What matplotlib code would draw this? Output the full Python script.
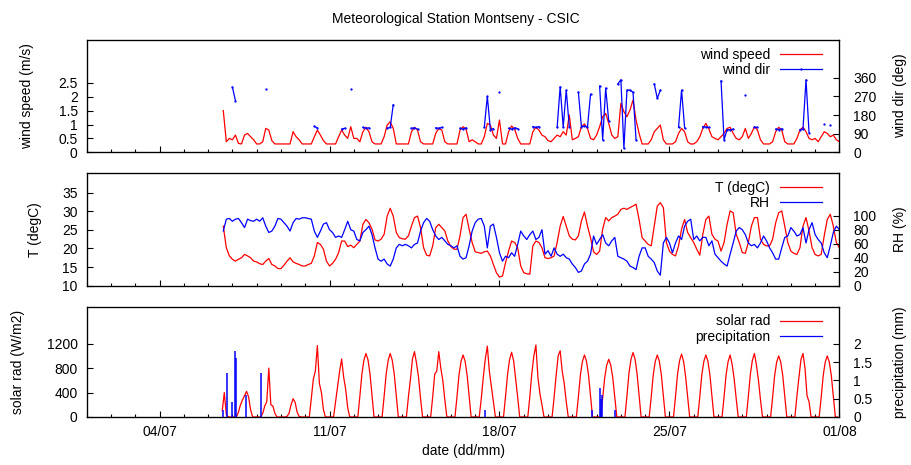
import numpy as np
import pandas as pd
import matplotlib
matplotlib.use('Agg')
import matplotlib.pyplot as plt
import matplotlib.dates as mdates
from matplotlib.ticker import FormatStrFormatter

plt.rcParams['font.family'] = ['Liberation Sans', 'DejaVu Sans']
plt.rcParams['font.size'] = 10

N = np.nan

# ---------------- data (3-hourly, starting 06/07 15:00) ----------------
series_start = '2013-07-06 15:00'
series_step = '3h'

wind_speed = [
    1.5, 0.38, 0.5, 0.45, 0.62, 0.32, 0.3, 0.62, 0.68, 0.56,
    0.45, 0.3, 0.3, 0.38, 0.86, 0.8, 0.42, 0.3, 0.3, 0.3,
    0.3, 0.3, 0.3, 0.74, 0.56, 0.45, 0.3, 0.3, 0.3, 0.3,
    0.56, 0.8, 0.62, 0.42, 0.3, 0.3, 0.3, 0.3, 0.56, 0.8,
    0.62, 0.5, 0.92, 0.5, 0.5, 0.38, 0.74, 0.9, 0.74, 0.38,
    0.3, 0.3, 0.3, 0.56, 0.98, 1.1, 0.86, 0.3, 0.3, 0.3,
    0.3, 0.3, 0.74, 0.9, 0.8, 0.38, 0.3, 0.3, 0.3, 0.3,
    0.68, 0.86, 0.8, 0.38, 0.3, 0.3, 0.3, 0.3, 0.8, 0.92,
    0.83, 0.38, 0.45, 0.38, 0.3, 0.3, 0.56, 1.04, 0.98, 0.62,
    0.5, 1.16, 0.3, 0.3, 0.74, 0.95, 0.83, 0.5, 0.3, 0.3,
    0.3, 0.3, 0.74, 0.9, 0.8, 0.62, 0.56, 0.42, 0.38, 0.5,
    0.62, 0.56, 0.74, 0.62, 1.34, 0.45, 0.5, 0.56, 0.92, 1.02,
    0.86, 0.5, 0.45, 0.62, 0.92, 1.28, 1.4, 1.04, 0.62, 0.5,
    0.56, 1.76, 1.46, 1.28, 1.52, 1.88, 1.16, 0.68, 0.3, 0.3,
    0.3, 0.45, 0.74, 0.86, 0.98, 0.45, 0.3, 0.3, 0.3, 0.38,
    0.68, 0.86, 0.74, 0.38, 0.3, 0.3, 0.38, 0.56, 0.86, 1.04,
    0.83, 0.56, 0.5, 0.45, 0.56, 0.68, 0.86, 0.9, 0.68, 0.5,
    0.45, 0.56, 0.86, 0.5, 0.68, 0.92, 0.8, 0.45, 0.3, 0.3,
    0.3, 0.38, 0.74, 0.9, 0.8, 0.38, 0.3, 0.3, 0.3, 0.5,
    0.8, 0.9, 0.74, 0.5, 0.45, 0.5, 0.38, 0.56, 0.74, 0.68,
    0.56, 0.62, 0.45, 0.38,
]

wind_dir = [
    N, N, N, 315, 250, N, N, N, N, N,
    N, N, N, N, 305, N, N, N, N, N,
    N, N, N, N, N, N, N, N, N, N,
    125, 118, N, N, N, N, N, N, N, 112,
    116, N, 305, N, N, N, 120, 116, 118, N,
    N, N, N, N, 116, 120, 230, N, N, N,
    N, N, 116, 118, 112, N, N, N, N, N,
    118, 116, 120, N, N, N, N, N, 116, 112,
    118, N, N, N, N, N, 120, 270, 110, 114,
    N, 293, N, N, 116, 112, 118, 114, N, N,
    N, N, 124, 120, 124, N, N, N, N, N,
    120, 317, 122, 300, 124, N, N, 290, 124, 126,
    122, 280, N, N, 320, 60, 310, 150, N, N,
    330, 350, 20, 300, 300, 290, 60, N, N, N,
    N, N, 330, 260, 300, N, N, N, N, N,
    120, 300, 118, N, N, N, N, N, 124, 122,
    120, N, N, N, 345, 60, 110, 108, 112, N,
    N, N, 275, N, N, 122, 120, N, N, N,
    N, N, 112, 110, 114, N, N, N, N, N,
    110, 112, 350, 95, N, N, N, N, 135, N,
    130, N, N, N,
]

temperature = [
    26.0, 20.2, 18.0, 17.1, 16.6, 17.1, 17.5, 18.4, 18.0, 17.5,
    16.6, 16.4, 15.9, 15.7, 16.6, 17.3, 15.7, 15.3, 14.6, 14.6,
    15.5, 16.6, 17.5, 16.4, 16.0, 15.7, 15.3, 15.3, 15.7, 16.0,
    18.0, 21.6, 21.1, 19.8, 16.6, 15.3, 16.0, 17.1, 18.9, 22.0,
    22.0, 20.5, 20.9, 20.2, 21.1, 22.0, 26.5, 27.8, 26.9, 25.2,
    22.3, 22.0, 22.5, 23.8, 28.7, 30.8, 28.7, 24.3, 22.9, 22.6,
    22.5, 23.4, 26.0, 28.3, 28.7, 25.6, 20.2, 18.2, 18.0, 20.7,
    25.6, 26.5, 25.6, 24.7, 22.0, 20.5, 19.8, 19.8, 23.4, 28.3,
    29.2, 25.2, 21.6, 19.1, 18.9, 18.7, 19.1, 19.3, 18.0, 15.7,
    13.5, 12.3, 12.6, 16.2, 19.3, 22.0, 21.6, 20.2, 15.3, 13.5,
    13.2, 13.1, 20.7, 22.0, 21.6, 20.2, 17.5, 17.3, 17.5, 18.0,
    21.6, 26.0, 28.6, 26.0, 23.4, 22.5, 22.3, 23.4, 27.4, 29.8,
    26.0, 22.9, 19.1, 18.4, 19.3, 25.2, 28.3, 27.4, 28.3, 28.7,
    29.2, 30.5, 30.8, 30.5, 31.0, 31.4, 31.9, 27.8, 22.9, 22.0,
    21.1, 20.7, 26.0, 31.4, 32.3, 31.0, 21.6, 19.3, 18.4, 18.0,
    20.7, 25.2, 27.8, 24.3, 22.9, 21.6, 19.8, 18.2, 23.8, 27.8,
    28.7, 23.8, 22.5, 22.0, 19.3, 21.6, 26.5, 30.1, 29.6, 23.8,
    21.6, 18.9, 18.7, 21.6, 26.0, 28.3, 28.3, 22.5, 21.1, 20.7,
    20.7, 22.5, 26.9, 29.6, 30.1, 26.0, 21.6, 19.3, 18.7, 18.4,
    20.2, 26.0, 28.3, 24.7, 20.2, 18.4, 18.0, 18.4, 23.4, 27.8,
    29.2, 26.0, 21.6, 20.2,
]

rel_humidity = [
    78, 95, 96, 92, 95, 96, 90, 83, 95, 93,
    92, 95, 92, 97, 85, 76, 78, 85, 96, 95,
    90, 85, 78, 90, 96, 95, 97, 97, 96, 95,
    78, 69, 78, 88, 90, 80, 76, 69, 71, 69,
    80, 92, 80, 78, 66, 64, 76, 80, 85, 73,
    54, 38, 35, 38, 31, 28, 38, 54, 59, 57,
    59, 57, 54, 59, 61, 78, 90, 96, 92, 80,
    71, 66, 69, 64, 59, 57, 54, 57, 42, 38,
    40, 57, 78, 90, 95, 96, 85, 54, 85, 88,
    69, 47, 35, 42, 40, 47, 42, 59, 78, 71,
    66, 73, 78, 66, 69, 80, 45, 50, 42, 54,
    45, 42, 45, 40, 38, 31, 26, 19, 21, 31,
    35, 45, 71, 59, 66, 73, 61, 57, 64, 69,
    42, 40, 38, 35, 28, 26, 23, 42, 54, 54,
    42, 38, 33, 21, 15, 61, 69, 61, 47, 61,
    71, 66, 85, 92, 95, 66, 71, 64, 69, 69,
    57, 64, 45, 40, 35, 31, 28, 45, 61, 78,
    83, 80, 73, 61, 57, 59, 54, 61, 71, 64,
    54, 47, 38, 38, 54, 69, 71, 83, 78, 71,
    73, 83, 61, 80, 90, 73, 66, 61, 47, 40,
    57, 76, 85, 80,
]

# solar radiation (W/m2): values at 06,08,10,12,14,16,18 h for each day 06/07 .. 31/07
solar_first_day = '2013-07-06'
solar_day_hours = [6, 8, 10, 12, 14, 16, 18]
solar_night_hours = [0, 2, 4, 20, 22]
solar_daytime = [
    [N, N, N, N, 100, 400, 40],        # 06/07
    [80, 200, 280, 350, 420, 330, 120],
    [60, 180, 250, 800, 200, 180, 60],
    [10, 60, 200, 300, 240, 80, 10],
    [300, 620, 750, 1170, 550, 400, 120],  # 10/07
    [250, 500, 750, 950, 650, 450, 150],
    [340, 700, 930, 1040, 940, 710, 360],
    [340, 700, 930, 1040, 930, 700, 350],
    [330, 620, 950, 1070, 880, 650, 300],
    [330, 700, 750, 1070, 800, 600, 280],  # 15/07
    [330, 690, 910, 1015, 915, 690, 350],
    [300, 650, 950, 1160, 750, 500, 250],
    [340, 700, 940, 1060, 920, 620, 320],
    [330, 720, 1000, 1180, 650, 380, 200],
    [320, 680, 1000, 1085, 750, 550, 250],  # 20/07
    [330, 690, 910, 1015, 915, 690, 350],
    [310, 640, 850, 945, 850, 640, 320],
    [345, 720, 945, 1055, 950, 710, 360],
    [330, 690, 910, 1015, 915, 690, 350],
    [335, 700, 920, 1030, 910, 660, 330],  # 25/07
    [330, 690, 910, 1015, 915, 690, 350],
    [330, 690, 910, 1015, 860, 620, 300],
    [340, 700, 930, 1040, 850, 600, 280],
    [325, 680, 900, 1000, 900, 680, 340],
    [340, 650, 940, 1040, 800, 350, 250],  # 30/07
    [325, 680, 900, 1000, 900, 680, 340],
]

# precipitation events (mm)
precip_times = ['2013-07-06 14:45', '2013-07-06 18:40', '2013-07-07 00:00',
                '2013-07-07 02:15', '2013-07-07 03:20', '2013-07-07 13:40',
                '2013-07-08 04:35', '2013-07-17 09:20', '2013-07-21 19:40',
                '2013-07-22 03:10', '2013-07-22 04:15', '2013-07-22 05:20',
                '2013-07-22 18:30']
precip_mm = [0.19, 1.2, 0.42, 1.8, 1.6, 0.6, 1.2, 0.19, 0.2, 0.8, 0.5, 0.6, 0.19]

x_start, x_end = '2013-07-01', '2013-08-01'
major_dates = ['2013-07-04', '2013-07-11', '2013-07-18', '2013-07-25', '2013-08-01']

# ---------------- build series ----------------
t3 = pd.date_range(series_start, periods=len(temperature), freq=series_step)

s_t, s_v = [], []
for k, day in enumerate(pd.date_range(solar_first_day, periods=len(solar_daytime), freq='D')):
    pts = {}
    for h in solar_night_hours:
        pts[h] = (N if (k == 0 and h < 12) else 0.0)
    for h, v in zip(solar_day_hours, solar_daytime[k]):
        pts[h] = v
    for h in sorted(pts):
        s_t.append(day + pd.Timedelta(hours=h))
        s_v.append(pts[h])
s_t = pd.DatetimeIndex(s_t)
p_t = pd.to_datetime(precip_times)

RED = '#ff0000'
BLUE = '#0000ff'
LW = 0.9

fig = plt.figure(figsize=(9.11, 4.65), dpi=100)
FW, FH = 911.0, 465.0
L, R = 86.7, 839.4


def add_axes(top, bot):
    return fig.add_axes([L / FW, 1 - bot / FH, (R - L) / FW, (bot - top) / FH])


ax1 = add_axes(40.0, 152.3)
ax2 = add_axes(173.3, 285.7)
ax3 = add_axes(306.7, 417.0)

ax1t = ax1.twinx()
ax2t = ax2.twinx()
ax3t = ax3.twinx()

l1, = ax1.plot(t3, wind_speed, color=RED, lw=LW, label='wind speed')
l2, = ax1t.plot(t3, wind_dir, color=BLUE, lw=LW, marker='.', ms=1.3, label='wind dir')
l3, = ax2.plot(t3, temperature, color=RED, lw=LW, label='T (degC)')
l4, = ax2t.plot(t3, rel_humidity, color=BLUE, lw=LW, label='RH')
l5, = ax3.plot(s_t, s_v, color=RED, lw=LW, label='solar rad')
ax3t.vlines(p_t, 0, precip_mm, color=BLUE, lw=1.1)
l6, = ax3t.plot([], [], color=BLUE, lw=LW, label='precipitation')

ax1.set_ylim(0, 4.04)
ax1t.set_ylim(0, 542)
ax2.set_ylim(10, 40.2)
ax2t.set_ylim(0, 160.5)
ax3.set_ylim(0, 1806)
ax3t.set_ylim(0, 3.01)

ax1.set_yticks([0, 0.5, 1, 1.5, 2, 2.5])
ax1t.set_yticks([0, 90, 180, 270, 360])
ax2.set_yticks([10, 15, 20, 25, 30, 35])
ax2t.set_yticks([0, 20, 40, 60, 80, 100])
ax3.set_yticks([0, 400, 800, 1200])
ax3t.set_yticks([0, 0.5, 1, 1.5, 2])
for a in (ax1, ax1t, ax3t):
    a.yaxis.set_major_formatter(FormatStrFormatter('%g'))

xmin, xmax = pd.Timestamp(x_start), pd.Timestamp(x_end)
for a in (ax1, ax2, ax3):
    a.set_xlim(xmin, xmax)
    a.set_xticks(pd.to_datetime(major_dates))
    a.xaxis.set_minor_locator(mdates.DayLocator())
    a.xaxis.set_major_formatter(mdates.DateFormatter('%d/%m'))
    a.tick_params(axis='x', which='major', direction='in', length=4.5, width=0.8, top=False, pad=6)
    a.tick_params(axis='x', which='minor', direction='in', length=2.5, width=0.8, top=False)
    a.tick_params(axis='y', direction='in', length=4, width=0.8, pad=6.5)
    for sp in a.spines.values():
        sp.set_linewidth(0.9)
for a in (ax1t, ax2t, ax3t):
    a.tick_params(axis='y', direction='in', length=4, width=0.8, pad=10)
    a.yaxis.set_label_coords(1.0712, 0.5)
ax1.tick_params(labelbottom=False)
ax2.tick_params(labelbottom=False)

ax1.set_ylabel('wind speed (m/s)')
ax1.yaxis.set_label_coords((34 - L) / (R - L), 0.5)
ax2.set_ylabel('T (degC)')
ax2.yaxis.set_label_coords((42.5 - L) / (R - L), 0.5)
ax3.set_ylabel('solar rad (W/m2)')
ax3.yaxis.set_label_coords((25 - L) / (R - L), 0.5)
ax1t.set_ylabel('wind dir (deg)')
ax2t.set_ylabel('RH (%)')
ax3t.set_ylabel('precipitation (mm)')
ax3.set_xlabel('date (dd/mm)')
ax3.xaxis.set_label_coords(0.5, -0.245)

for a_top, hs in ((ax1t, [l1, l2]), (ax2t, [l3, l4]), (ax3t, [l5, l6])):
    a_top.legend(handles=hs, loc='upper right', bbox_to_anchor=((822 - L) / (R - L), 0.93),
                 frameon=False, markerfirst=False, handlelength=3.0, handletextpad=0.75,
                 borderaxespad=0, borderpad=0, labelspacing=0.08, fontsize=10)

fig.text(0.5, 1 - 18.5 / FH, 'Meteorological Station Montseny - CSIC', ha='center', va='center', fontsize=10)

fig.savefig('out.png', dpi=100)
